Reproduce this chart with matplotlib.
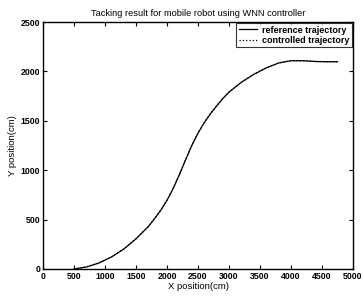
import matplotlib.pyplot as plt

# reference trajectory (cm)
ref_x = [500, 700, 900, 1100, 1300, 1500, 1700, 1800, 1900, 2000, 2100, 2200, 2300, 2400,
         2500, 2600, 2700, 2800, 2900, 3000, 3200, 3400, 3600, 3800, 4000, 4200, 4400,
         4600, 4750]
ref_y = [0, 20, 60, 120, 200, 305, 430, 510, 595, 695, 815, 955, 1105, 1250,
         1375, 1480, 1570, 1650, 1725, 1790, 1890, 1970, 2035, 2085, 2108, 2108, 2100,
         2098, 2098]

# controlled trajectory (cm)
ctl_x = [500, 700, 900, 1100, 1300, 1500, 1700, 1800, 1900, 2000, 2100, 2200, 2300, 2400,
         2500, 2600, 2700, 2800, 2900, 3000, 3200, 3400, 3600, 3800, 4000, 4200, 4400,
         4600, 4750]
ctl_y = [0, 22, 62, 122, 202, 307, 432, 512, 598, 698, 818, 958, 1108, 1252,
         1377, 1482, 1572, 1652, 1726, 1791, 1891, 1971, 2036, 2086, 2109, 2108, 2100,
         2098, 2098]

plt.rcParams["font.family"] = ["Liberation Sans", "DejaVu Sans"]
plt.rcParams["font.weight"] = "bold"

fig = plt.figure(figsize=(3.63, 2.99), dpi=100)
ax = fig.add_axes([43 / 363, 30 / 299, 310 / 363, 247 / 299])

ax.plot(ref_x, ref_y, color="black", linewidth=0.9, label="reference trajectory")
ax.plot(ctl_x, ctl_y, color="black", linewidth=0.9, linestyle=":", label="controlled trajectory")

ax.set_xlim(0, 5000)
ax.set_ylim(0, 2500)
ax.set_xticks(range(0, 5001, 500))
ax.set_yticks(range(0, 2501, 500))
ax.tick_params(direction="in", top=True, right=True, labelsize=6.3, length=3, width=0.8, pad=2)
for s in ax.spines.values():
    s.set_linewidth(1.0)

ax.set_title("Tacking result for mobile robot using WNN controller", fontsize=6.7, pad=4)
ax.set_xlabel("X position(cm)", fontsize=6.8, labelpad=1)
ax.set_ylabel("Y position(cm)", fontsize=6.8, labelpad=3)

leg = ax.legend(loc="upper right", fontsize=6.5, frameon=True, fancybox=False,
                edgecolor="black", handlelength=2.0, handletextpad=0.6,
                borderpad=0.25, labelspacing=0.15, borderaxespad=0.15)
leg.get_frame().set_linewidth(0.8)

fig.savefig("out.png", dpi=100)
